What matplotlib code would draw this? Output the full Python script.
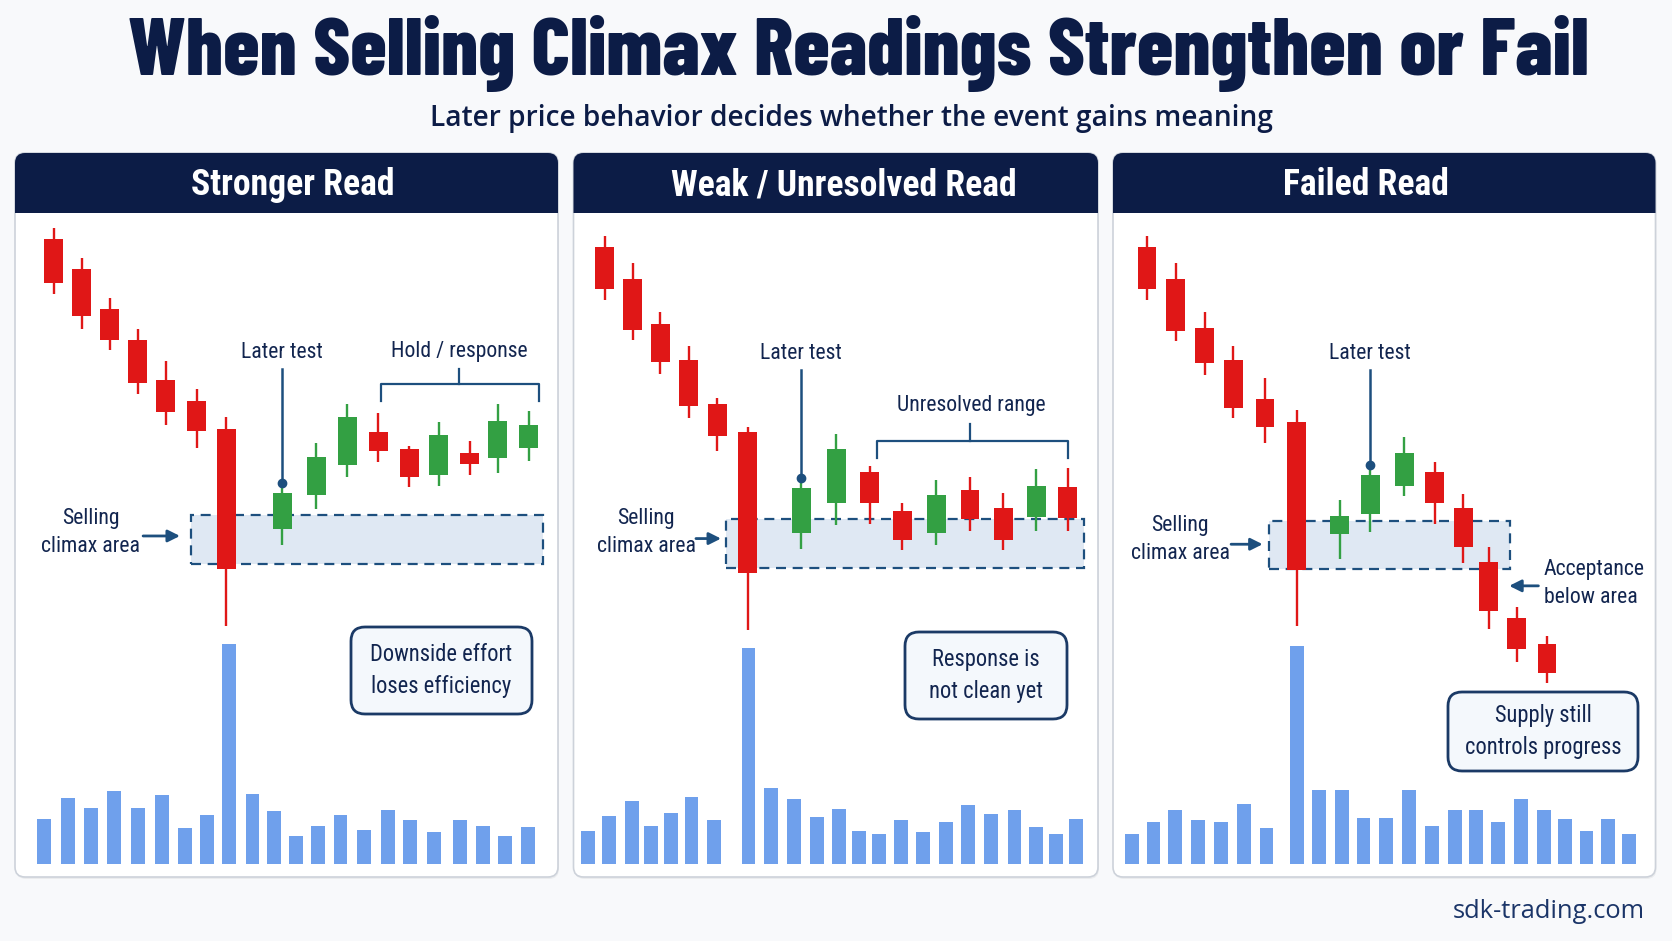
import matplotlib
matplotlib.use("Agg")
import matplotlib.pyplot as plt
from matplotlib import font_manager
from matplotlib.patches import FancyBboxPatch, Rectangle

# ---- data (price units, volume in relative units) ----
p1_x = [0, 0.95, 1.9, 2.85, 3.8, 4.85, 5.85, 7.75, 8.9, 9.95, 11.0, 12.05, 13.05, 14.1, 15.05, 16.1]
p1_open = [89.1, 82.8, 74.2, 67.6, 59.2, 54.7, 48.8, 27.8, 35.0, 41.3, 48.3, 44.7, 39.2, 43.9, 42.8, 44.9]
p1_high = [91.3, 85.0, 76.5, 70.0, 63.2, 57.4, 51.5, 37.5, 46.0, 54.2, 52.3, 45.2, 50.4, 46.4, 54.2, 52.6]
p1_low = [77.4, 70.0, 65.5, 56.3, 49.7, 44.9, 7.2, 24.4, 32.0, 38.8, 41.8, 36.7, 36.9, 39.2, 39.5, 42.2]
p1_close = [79.7, 72.8, 67.7, 58.7, 52.4, 48.4, 19.2, 35.3, 42.9, 51.5, 44.3, 38.8, 47.6, 41.4, 50.6, 49.7]
p1_vol_x = [-0.32, 0.48, 1.27, 2.04, 2.87, 3.67, 4.45, 5.19, 5.95, 6.74, 7.47, 8.2, 8.97, 9.72,
            10.53, 11.32, 12.09, 12.9, 13.76, 14.54, 15.31, 16.09]
p1_vol = [9.5, 14.0, 11.9, 15.6, 11.9, 14.7, 7.6, 10.5, 46.6, 14.8, 11.2, 6.0, 8.2, 10.5, 7.3,
          11.4, 9.4, 6.9, 9.3, 8.1, 5.9, 8.0]

p2_x = [0, 0.95, 1.89, 2.86, 3.83, 4.86, 6.67, 7.86, 8.99, 10.09, 11.25, 12.39, 13.52, 14.64, 15.7]
p2_open = [87.4, 80.7, 71.0, 63.4, 54.2, 48.3, 26.8, 33.2, 39.7, 31.5, 26.8, 36.0, 32.1, 30.2, 36.7]
p2_high = [89.8, 83.9, 73.6, 66.4, 55.4, 49.3, 38.5, 47.9, 41.0, 33.3, 38.1, 38.8, 35.3, 40.5, 40.6]
p2_low = [76.2, 67.6, 60.6, 51.3, 44.3, 6.3, 23.4, 28.5, 28.8, 23.3, 24.4, 27.4, 23.2, 27.4, 27.4]
p2_close = [78.4, 69.9, 63.0, 53.7, 47.4, 18.4, 36.4, 44.7, 33.2, 25.5, 34.9, 29.8, 25.5, 36.8, 30.0]
p2_vol_x = [-0.55, 0.16, 0.94, 1.58, 2.26, 2.95, 3.71, 4.88, 5.63, 6.41, 7.19, 7.95, 8.63, 9.32,
            10.06, 10.8, 11.57, 12.32, 13.1, 13.9, 14.64, 15.3, 15.99]
p2_vol = [7.1, 10.2, 13.5, 8.2, 10.9, 14.3, 9.3, 45.7, 16.2, 13.9, 10.0, 11.7, 7.1, 6.5, 9.3,
          6.8, 8.9, 12.5, 10.7, 11.4, 7.9, 6.5, 9.6]

p3_x = [0, 0.97, 1.95, 2.93, 4.0, 5.08, 6.54, 7.57, 8.73, 9.75, 10.72, 11.58, 12.54, 13.56]
p3_open = [87.4, 80.7, 70.2, 63.4, 55.2, 50.3, 26.7, 30.8, 36.9, 39.7, 32.1, 20.7, 8.9, 3.3]
p3_high = [89.8, 83.9, 73.6, 66.4, 59.7, 52.8, 33.8, 41.2, 47.2, 42.0, 35.2, 24.0, 11.2, 5.1]
p3_low = [76.2, 67.5, 60.4, 51.2, 46.0, 7.2, 21.3, 27.0, 34.7, 28.8, 20.5, 6.6, -0.5, -4.8]
p3_close = [78.4, 69.7, 62.8, 53.4, 49.4, 19.0, 30.5, 39.2, 43.9, 33.2, 24.0, 10.3, 2.3, -2.7]
p3_vol_x = [-0.5, 0.22, 0.95, 1.74, 2.52, 3.29, 4.05, 5.09, 5.83, 6.6, 7.34, 8.1, 8.89, 9.65,
            10.43, 11.16, 11.9, 12.67, 13.45, 14.17, 14.9, 15.63, 16.35]
p3_vol = [6.5, 8.9, 11.4, 9.3, 9.0, 12.7, 7.7, 46.2, 15.7, 15.7, 9.7, 9.7, 15.7, 8.2, 11.4,
          11.4, 8.9, 13.9, 11.4, 9.5, 7.0, 9.5, 6.5]

panel_titles = ["Stronger Read", "Weak / Unresolved Read", "Failed Read"]
callouts = ["Downside effort\nloses efficiency", "Response is\nnot clean yet", "Supply still\ncontrols progress"]

# ---- style ----
BG = "#f8f9fb"
NAVY = "#0c1c46"
TEXT = "#12254f"
LINE = "#1d4f7e"
RED = "#e01717"
GREEN = "#33a043"
VOLC = "#6fa0ec"
ZONE_FILL = "#dfe8f3"


def pick(cands):
    for c in cands:
        try:
            font_manager.findfont(font_manager.FontProperties(family=c), fallback_to_default=False)
            return c
        except Exception:
            pass
    return "DejaVu Sans"


F_TITLE = pick(["Barlow Condensed", "Roboto Condensed", "Oswald", "DejaVu Sans"])
F_HEAVY = pick(["Roboto Condensed", "Barlow Condensed", "Oswald", "IBM Plex Sans Condensed", "DejaVu Sans"])
F_COND = pick(["Roboto Condensed", "Barlow Semi Condensed", "IBM Plex Sans Condensed", "DejaVu Sans"])
F_URL = pick(["Open Sans", "Lato", "Noto Sans", "DejaVu Sans"])

W, H = 1672, 941
fig = plt.figure(figsize=(W / 100, H / 100), dpi=100, facecolor=BG)
renderer = fig.canvas.get_renderer()


def fit(t, width):
    bb = t.get_window_extent(renderer)
    t.set_fontsize(t.get_fontsize() * width / bb.width)
    return t.get_fontsize()


bg = fig.add_axes([0, 0, 1, 1])
bg.set_xlim(0, W)
bg.set_ylim(H, 0)
bg.axis("off")
bg.set_zorder(0)

# title block
t = bg.text(858, 53, "When Selling Climax Readings Strengthen or Fail", ha="center", va="center",
            family=F_TITLE, weight="heavy", color=NAVY, fontsize=40)
fit(t, 1461)
t = bg.text(852, 118, "Later price behavior decides whether the event gains meaning", ha="center",
            va="center", family=F_URL, weight=600, color=NAVY, fontsize=20)
fit(t, 845)
t = bg.text(1645, 912, "sdk-trading.com", ha="right", va="center", family=F_URL, color="#1b3568",
            fontsize=16)
fit(t, 193)

PANELS = [(15, 558), (573.5, 1098), (1113, 1655.5)]
TOP, HDR, BOTTOM = 153, 213, 877
title_cx = [293, 844, 1366]
XLIMS = [(-1.312, 17.095), (-1.051, 16.73), (-1.153, 17.24)]
YLIM = (-45.88, 94.56)
VYLIM = (-2.68, 137.76)

hdr_size = None
for (l, r), name, cx in zip(PANELS, panel_titles, title_cx):
    shadow = FancyBboxPatch((l + 1, TOP + 2), r - l, BOTTOM - TOP, boxstyle="round,pad=0,rounding_size=10",
                            fc="#000000", ec="none", alpha=0.05)
    bg.add_patch(shadow)
    frame = FancyBboxPatch((l, TOP), r - l, BOTTOM - TOP, boxstyle="round,pad=0,rounding_size=10",
                           fc="white", ec="#cdd2da", lw=1.2)
    bg.add_patch(frame)
    hdr = Rectangle((l - 2, TOP - 2), r - l + 4, HDR - TOP + 2, fc=NAVY, ec="none")
    bg.add_patch(hdr)
    hdr.set_clip_path(frame)
    ht = bg.text(cx, (TOP + HDR) / 2 + 2, name, ha="center", va="center", family=F_HEAVY,
                 weight="bold", color="white", fontsize=22)
    if name == "Weak / Unresolved Read":
        hdr_size = fit(ht, 346)
for txt in bg.texts:
    if txt.get_text() in panel_titles:
        txt.set_fontsize(hdr_size)

# callout boxes (pixel layout)
CALLOUT_BOX = [(351, 627, 181, 87), (905, 632, 162, 87), (1448, 692, 190, 79)]
call_texts = []
for (x0, y0, w, h), txt in zip(CALLOUT_BOX, callouts):
    bg.add_patch(FancyBboxPatch((x0, y0), w, h, boxstyle="round,pad=0,rounding_size=14",
                                fc="#f4f8fc", ec="#1b3a66", lw=2))
    call_texts.append(bg.text(x0 + w / 2, y0 + h / 2, txt, ha="center", va="center", family=F_COND,
                              color=TEXT, fontsize=16, linespacing=1.45))
bb = call_texts[2].get_window_extent(renderer)
cs = call_texts[2].get_fontsize() * 157 / bb.width
for c in call_texts:
    c.set_fontsize(cs)


def label(ax, x, y, s, **kw):
    kw.setdefault("ha", "center")
    return ax.text(x, y, s, va="center", family=F_COND, color=TEXT, fontsize=15, linespacing=1.45,
                   zorder=5, **kw)


def candles(ax, xs, o, h, lo, c):
    for x, oo, hh, ll, cc in zip(xs, o, h, lo, c):
        col = GREEN if cc >= oo else RED
        ax.vlines(x, ll, hh, color=col, lw=1.7, zorder=3)
        ax.bar(x, abs(cc - oo), bottom=min(oo, cc), width=0.64, color=col, zorder=4, linewidth=0)


def zone(ax, x0, x1, y0, y1):
    ax.add_patch(Rectangle((x0, y0), x1 - x0, y1 - y0, fc=ZONE_FILL, ec=LINE, lw=1.6,
                           ls=(0, (4.5, 3)), zorder=1.5))


def arrow(ax, x0, x1, y):
    ax.annotate("", xy=(x1, y), xytext=(x0, y),
                arrowprops=dict(arrowstyle="-|>", color=LINE, lw=2, mutation_scale=18,
                                shrinkA=0, shrinkB=0), zorder=5)


def later_test(ax, x, top, hi, ty):
    ax.plot([x, x], [top, hi], color=LINE, lw=1.8, zorder=5)
    ax.plot([x], [hi], "o", color=LINE, ms=6, zorder=6)
    return label(ax, x, ty, "Later test")


def bracket(ax, x0, x1, y, yend, xc, ytop):
    ax.plot([x0, x0, x1, x1], [yend, y, y, yend], color=LINE, lw=1.6, zorder=5,
            solid_joinstyle="round")
    ax.plot([xc, xc], [y, ytop], color=LINE, lw=1.6, zorder=5)


series = [
    (p1_x, p1_open, p1_high, p1_low, p1_close, p1_vol_x, p1_vol),
    (p2_x, p2_open, p2_high, p2_low, p2_close, p2_vol_x, p2_vol),
    (p3_x, p3_open, p3_high, p3_low, p3_close, p3_vol_x, p3_vol),
]
axes = []
for (l, r), xl, (xs, o, h, lo, c, vx, v) in zip(PANELS, XLIMS, series):
    ax = fig.add_axes([l / W, 1 - BOTTOM / H, (r - l) / W, (BOTTOM - HDR) / H])
    vax = ax.twinx()
    for a in (ax, vax):
        a.set_xlim(*xl)
        a.axis("off")
        a.patch.set_alpha(0)
    ax.set_ylim(*YLIM)
    vax.set_ylim(*VYLIM)
    vax.set_zorder(1)
    ax.set_zorder(2)
    vax.bar(vx, v, width=0.47, color=VOLC, linewidth=0)
    candles(ax, xs, o, h, lo, c)
    axes.append(ax)

ax1, ax2, ax3 = axes

# panel 1 annotations
zone(ax1, 4.64, 16.58, 20.3, 30.7)
lt = later_test(ax1, p1_x[7], 61.6, p1_high[7], 65.0)
lab = fit(lt, 82)
label(ax1, 13.74, 65.3, "Hold / response")
bracket(ax1, 11.09, 16.45, 58.3, 54.7, 13.74, 61.5)
label(ax1, 1.26, 26.9, "Selling\nclimax area")
arrow(ax1, 3.03, 4.28, 26.25)

# panel 2 annotations
zone(ax2, 4.12, 16.25, 19.5, 29.8)
later_test(ax2, p2_x[6], 61.3, p2_high[6], 64.8)
label(ax2, 12.43, 53.8, "Unresolved range")
bracket(ax2, 9.23, 15.7, 46.3, 42.8, 12.4, 50.0)
label(ax2, 1.41, 26.9, "Selling\nclimax area")
arrow(ax2, 3.1, 3.95, 25.7)

# panel 3 annotations
zone(ax3, 4.14, 12.32, 19.3, 29.4)
later_test(ax3, p3_x[7], 61.3, p3_high[7], 64.8)
label(ax3, 1.12, 25.5, "Selling\nclimax area")
arrow(ax3, 2.85, 3.92, 24.5)
label(ax3, 13.45, 16.2, "Acceptance\nbelow area", ha="left")
arrow(ax3, 13.27, 12.28, 15.7)

for a in axes:
    for t in a.texts:
        t.set_fontsize(lab)

fig.savefig("out.png", dpi=100, facecolor=BG)
